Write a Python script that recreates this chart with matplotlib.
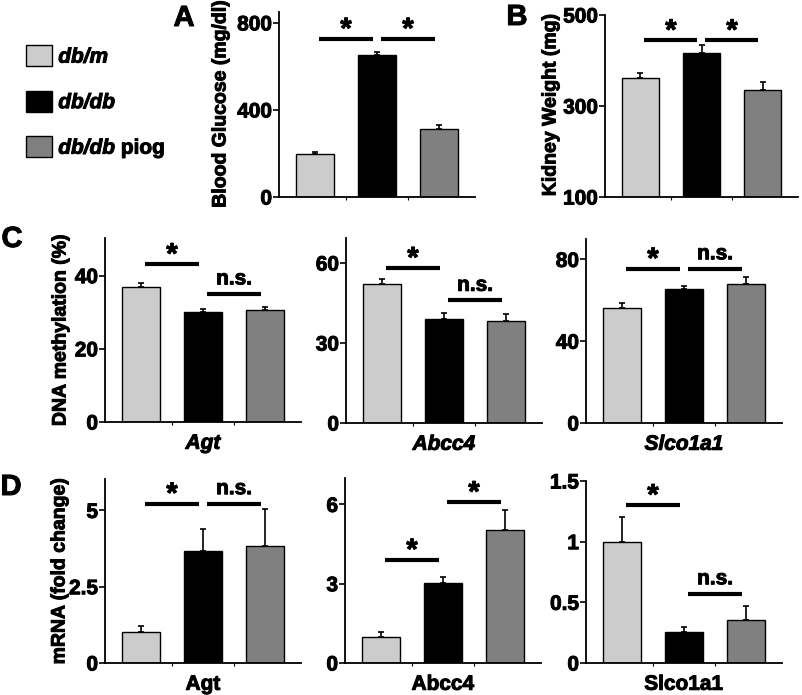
import matplotlib
matplotlib.use("Agg")
import matplotlib.pyplot as plt
from matplotlib.patches import Patch
import matplotlib.patheffects as pe

plt.rcParams['font.family'] = ['Liberation Sans', 'DejaVu Sans']
plt.rcParams['font.weight'] = 'bold'

W, H = 802, 695

# ---------------- data ----------------
groups = ["db/m", "db/db", "db/db"]
group_suffix = ["", "", " piog"]
colors = ["#cccccc", "#000000", "#808080"]

glucose = [198, 653, 314]
glucose_err = [10, 12, 17]
kidney = [361, 417, 335]
kidney_err = [11, 16, 18]

meth_agt = [37.0, 30.2, 30.6]
meth_agt_err = [1.1, 0.6, 0.9]
meth_abcc4 = [52.1, 39.2, 38.1]
meth_abcc4_err = [1.8, 1.9, 2.8]
meth_slco = [56.1, 65.6, 68.1]
meth_slco_err = [2.8, 1.3, 3.2]

mrna_agt = [1.0, 3.66, 3.82]
mrna_agt_err = [0.2, 0.73, 1.23]
mrna_abcc4 = [1.0, 3.03, 5.05]
mrna_abcc4_err = [0.16, 0.23, 0.73]
mrna_slco = [1.0, 0.255, 0.357]
mrna_slco_err = [0.2, 0.045, 0.11]

# significance: (bar_from, bar_to, y, label)
sig_A = [(0, 1, 726, "*"), (1, 2, 726, "*")]
sig_B = [(0, 1, 444, "*"), (1, 2, 444, "*")]
sig_C1 = [(0, 1, 43.1, "*"), (1, 2, 35.0, "n.s.")]
sig_C2 = [(0, 1, 58.1, "*"), (1, 2, 46.0, "n.s.")]
sig_C3 = [(0, 1, 75.4, "*"), (1, 2, 75.4, "n.s.")]
sig_D1 = [(0, 1, 5.22, "*"), (1, 2, 5.22, "n.s.")]
sig_D2 = [(0, 1, 3.9, "*"), (1, 2, 6.08, "*")]
sig_D3 = [(0, 1, 1.30, "*"), (1, 2, 0.57, "n.s.")]

fig = plt.figure(figsize=(W / 100, H / 100), dpi=100)
BOLD = [pe.withStroke(linewidth=0.7, foreground='black')]


def px_axes(left, top, right, bottom):
    return fig.add_axes([left / W, 1 - bottom / H, (right - left) / W, (bottom - top) / H])


def panel(rect, vals, errs, ylim, ticks, ticklabels, sigs, xlabel=None, xstyle='normal'):
    ax = px_axes(*rect)
    x = list(range(len(vals)))
    ax.bar(x, [v - ylim[0] for v in vals], bottom=ylim[0], width=0.61, color=colors,
           edgecolor='black', linewidth=1.0, zorder=2)
    ax.errorbar(x, vals, yerr=[[0] * len(errs), errs], fmt='none', ecolor='black',
                elinewidth=1.2, capsize=2, capthick=1.2, zorder=1)
    ax.set_xlim(-0.58, 2.58)
    ax.set_ylim(*ylim)
    ax.set_yticks(ticks)
    ax.set_yticklabels(ticklabels)
    ax.set_xticks([0.5, 1.5])
    ax.set_xticklabels([])
    ax.tick_params(axis='x', direction='out', length=2, width=0.8)
    ax.tick_params(axis='y', direction='out', length=4, width=1.2, labelsize=15, pad=1)
    for t in ax.get_yticklabels():
        t.set_path_effects(BOLD)
    for s in ['top', 'right']:
        ax.spines[s].set_visible(False)
    for s in ['left', 'bottom']:
        ax.spines[s].set_linewidth(1.3)
    for (a, b, y, lab) in sigs:
        ax.plot([a + 0.06, b - 0.07], [y, y], color='black', linewidth=3.0,
                solid_capstyle='butt', clip_on=False)
        if lab == "*":
            ax.annotate(lab, ((a + b) / 2, y), xytext=(0, -3.5), textcoords='offset points',
                        ha='center', va='bottom', fontsize=21, fontweight='bold',
                        path_effects=BOLD)
        else:
            ax.annotate(lab, ((a + b) / 2, y), xytext=(0, 4), textcoords='offset points',
                        ha='center', va='bottom', fontsize=15, fontweight='bold',
                        path_effects=BOLD)
    if xlabel:
        ax.set_xlabel(xlabel, fontsize=15, fontweight='bold', fontstyle=xstyle, labelpad=3,
                      path_effects=BOLD)
    return ax


axA = panel((279, 12, 475, 197), glucose, glucose_err, (0, 850), [0, 400, 800],
            ["0", "400", "800"], sig_A)
axB = panel((605, 15, 798, 197), kidney, kidney_err, (100, 500), [100, 300, 500],
            ["100", "300", "500"], sig_B)

axC1 = panel((105, 238, 301, 422), meth_agt, meth_agt_err, (0, 50.3), [0, 20, 40],
             ["0", "20", "40"], sig_C1, "Agt", 'italic')
axC2 = panel((346, 238, 542, 423), meth_abcc4, meth_abcc4_err, (0, 69.4), [0, 30, 60],
             ["0", "30", "60"], sig_C2, "Abcc4", 'italic')
axC3 = panel((586, 239, 782, 423), meth_slco, meth_slco_err, (0, 90), [0, 40, 80],
             ["0", "40", "80"], sig_C3, "Slco1a1", 'italic')

axD1 = panel((105, 479, 301, 663), mrna_agt, mrna_agt_err, (0, 6.03), [0, 2.5, 5],
             ["0", "2.5", "5"], sig_D1, "Agt")
axD2 = panel((345, 478, 541, 663), mrna_abcc4, mrna_abcc4_err, (0, 7.0), [0, 3, 6],
             ["0", "3", "6"], sig_D2, "Abcc4")
axD3 = panel((586, 481, 782, 663), mrna_slco, mrna_slco_err, (0, 1.5), [0, 0.5, 1, 1.5],
             ["0", "0.5", "1", "1.5"], sig_D3, "Slco1a1")


def ylab(x, y, s):
    fig.text(x / W, 1 - y / H, s, rotation=90, ha='center', va='center',
             fontsize=14, fontweight='bold', path_effects=BOLD)


ylab(221, 104, "Blood Glucose (mg/dl)")
ylab(551, 105, "Kidney Weight (mg)")
ylab(61, 330, "DNA methylation (%)")
ylab(60, 571, "mRNA (fold change)")

for (lx, ly, s) in [(184, 18, "A"), (517, 17, "B"), (12, 239, "C"), (11, 487, "D")]:
    fig.text(lx / W, 1 - ly / H, s, ha='center', va='center', fontsize=21, fontweight='bold',
             path_effects=BOLD)

# legend
handles = [Patch(facecolor=c, edgecolor='black', linewidth=1.0) for c in colors]
leg = fig.legend(handles, groups, loc='upper left', bbox_to_anchor=(26 / W, 1 - 45 / H),
                 frameon=False, prop={'size': 15, 'weight': 'bold', 'style': 'italic'},
                 handlelength=1.25, handleheight=1.18,
                 handletextpad=0.3, labelspacing=1.15, borderpad=0, borderaxespad=0)
for t in leg.get_texts():
    t.set_path_effects(BOLD)

fig.canvas.draw()
renderer = fig.canvas.get_renderer()
for t, suf in zip(leg.get_texts(), group_suffix):
    if suf:
        bb = t.get_window_extent(renderer)
        fig.text(bb.x1 / W, (bb.y0 + bb.y1) / 2 / H, suf, ha='left', va='center',
                 fontsize=15, fontweight='bold', path_effects=BOLD)

fig.savefig("out.png", dpi=100)
